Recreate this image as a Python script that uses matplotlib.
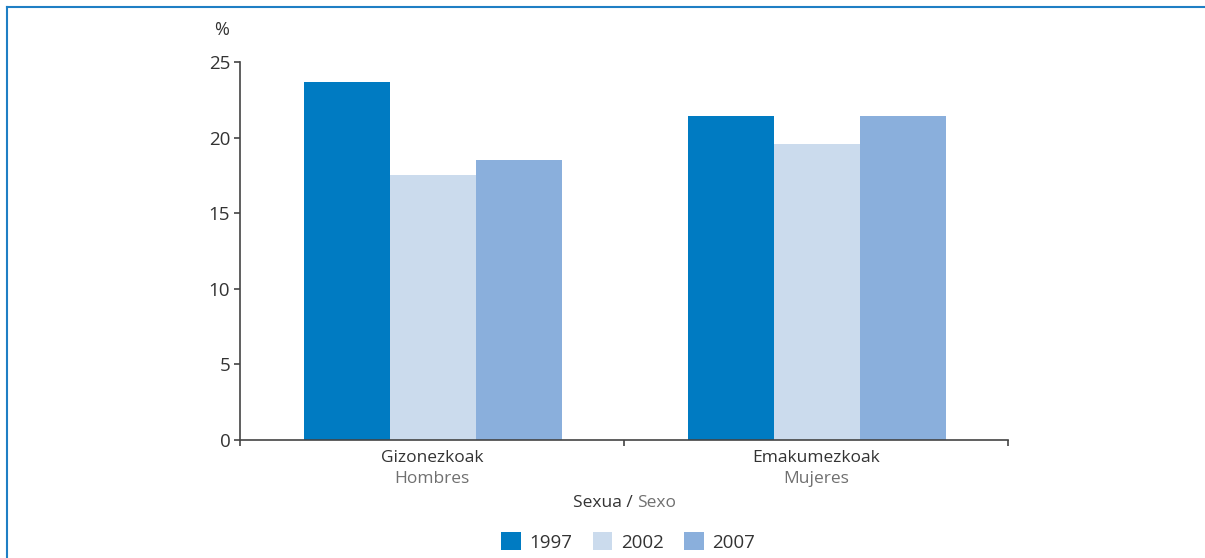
import numpy as np
import matplotlib
matplotlib.use('Agg')
import matplotlib.pyplot as plt
from matplotlib.lines import Line2D
from matplotlib.patches import Patch

categories_eu = ['Gizonezkoak', 'Emakumezkoak']
categories_es = ['Hombres', 'Mujeres']
years = ['1997', '2002', '2007']
values = {
    '1997': [23.7, 21.4],
    '2002': [17.5, 19.6],
    '2007': [18.5, 21.4],
}
colors = ['#007bc2', '#cbdbed', '#8aafdc']

plt.rcParams['font.family'] = ['Open Sans', 'DejaVu Sans']
dark = '#333333'
light = '#707070'

fig = plt.figure(figsize=(12.05, 5.58), dpi=100)
ax = fig.add_axes([240 / 1205, 1 - 440 / 558, 768 / 1205, 378 / 558])

x = np.arange(len(categories_eu))
width = 0.224
for i, year in enumerate(years):
    ax.bar(x + (i - 1) * width + 0.002, values[year], width, color=colors[i], linewidth=0)

ax.set_xlim(-0.5, 1.5)
ax.set_ylim(0, 25)
ax.set_yticks([0, 5, 10, 15, 20, 25])
ax.set_xticks([-0.5, 0.5, 1.5])
ax.set_xticklabels([])
for s in ['top', 'right']:
    ax.spines[s].set_visible(False)
for s in ['left', 'bottom']:
    ax.spines[s].set_color('#444444')
    ax.spines[s].set_linewidth(1.2)
ax.tick_params(axis='both', length=4, width=1.2, color='#444444',
               labelsize=13.5, labelcolor=dark)
ax.tick_params(axis='y', pad=3)

for xi, eu, es in zip(x, categories_eu, categories_es):
    ax.text(xi, -1.2, eu, ha='center', va='center', fontsize=12.5, color=dark)
    ax.text(xi, -2.6, es, ha='center', va='center', fontsize=12.5, color=light)

fig.text(637 / 1205, 1 - 503 / 558, 'Sexua / ', ha='right', va='center', fontsize=12.5, color=dark)
fig.text(637 / 1205, 1 - 503 / 558, 'Sexo', ha='left', va='center', fontsize=12.5, color=light)
fig.text(222 / 1205, 1 - 30 / 558, '%', ha='center', va='center', fontsize=13, color=dark)

handles = [Patch(facecolor=c, edgecolor='none') for c in colors]
fig.legend(handles, years, loc='center', bbox_to_anchor=(628 / 1205, 1 - 542 / 558),
           ncol=3, frameon=False, fontsize=13.5, handlelength=1.05, handleheight=1.05,
           handletextpad=0.45, columnspacing=1.1, labelcolor=dark)

# blue frame lines (top and left)
fig.add_artist(Line2D([7 / 1205, 1], [1 - 7 / 558, 1 - 7 / 558], color='#1f7fc4', lw=1.5,
                      transform=fig.transFigure))
fig.add_artist(Line2D([7 / 1205, 7 / 1205], [0, 1 - 7 / 558], color='#1f7fc4', lw=1.5,
                      transform=fig.transFigure))

fig.savefig('out.png', dpi=100)
